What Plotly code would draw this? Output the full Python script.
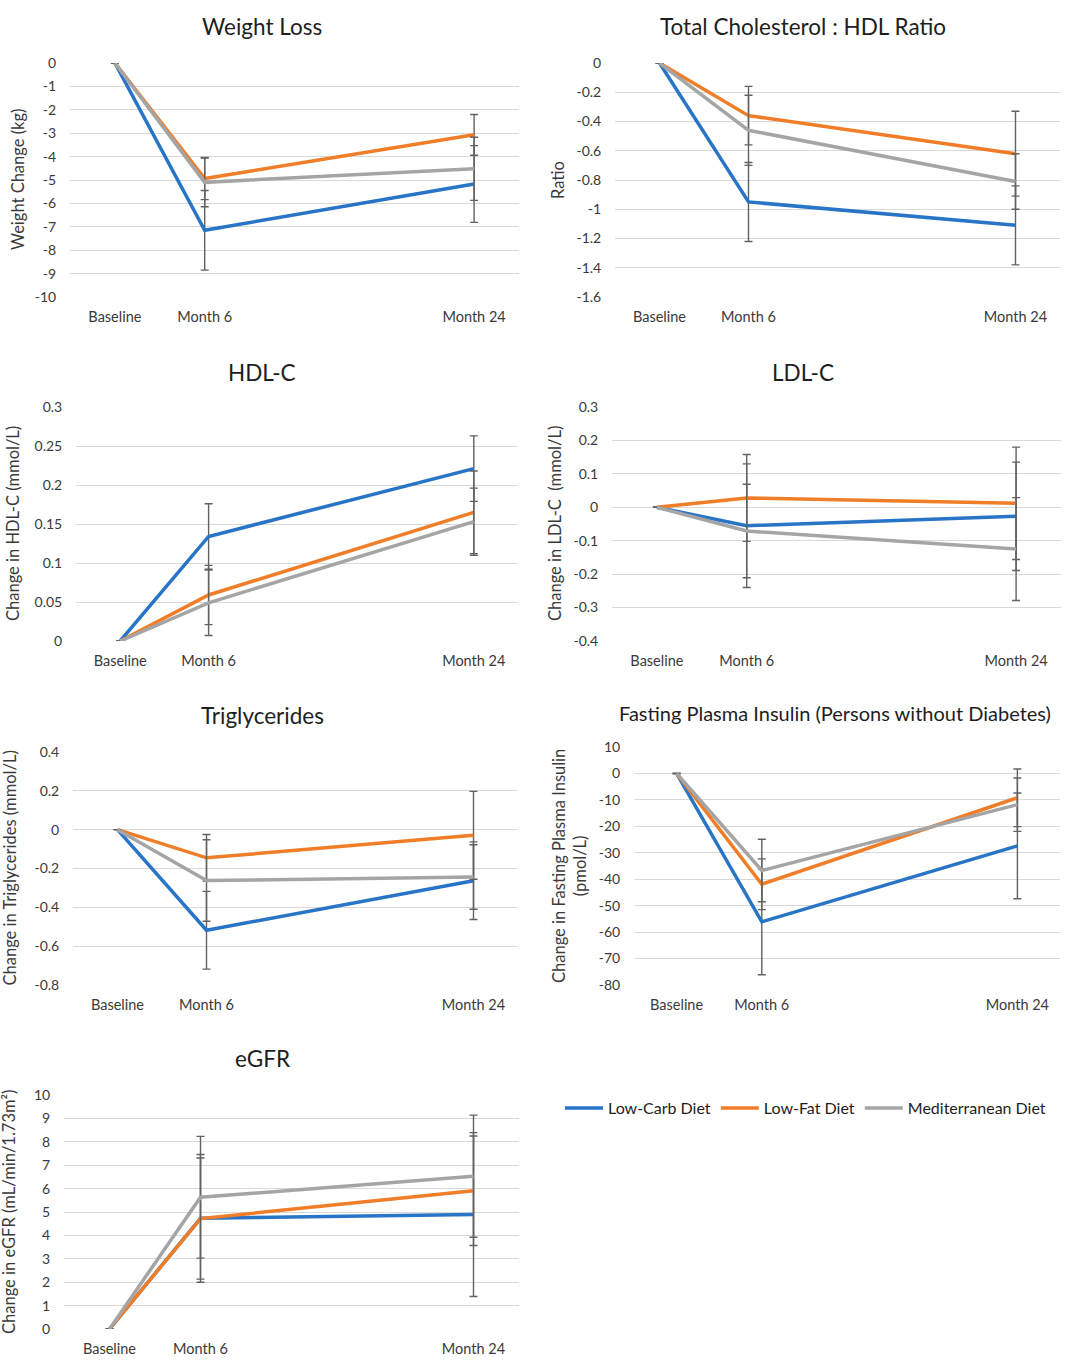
import plotly.graph_objects as go
import numpy as np

W, H = 1080, 1369
FONT = "Lato"
TXT = "#3A3A3A"

months = [0, 6, 24]
month_labels = ["Baseline", "Month 6", "Month 24"]
series_names = ["Low-Carb Diet", "Low-Fat Diet", "Mediterranean Diet"]
series_colors = ["#2874C6", "#F07D28", "#A5A5A5"]

# values per panel: [low-carb, low-fat, mediterranean]
weight_vals = [[0, -7.15, -5.17], [0, -4.94, -3.07], [0, -5.10, -4.52]]
weight_err = [[0, 1.70, 1.64], [0, 0.90, 0.87], [0, 1.04, 1.35]]

ratio_vals = [[0, -0.95, -1.11], [0, -0.36, -0.62], [0, -0.46, -0.81]]
ratio_err = [[0, 0.27, 0.27], [0, 0.20, 0.29], [0, 0.24, 0.19]]

hdl_vals = [[0, 0.134, 0.221], [0, 0.059, 0.165], [0, 0.049, 0.153]]
hdl_err = [[0, 0.042, 0.042], [0, 0.038, 0.053], [0, 0.042, 0.043]]

ldl_vals = [[0, -0.055, -0.027], [0, 0.028, 0.012], [0, -0.071, -0.125]]
ldl_err = [[0, 0.185, 0.162], [0, 0.130, 0.168], [0, 0.140, 0.154]]

tg_vals = [[0, -0.518, -0.263], [0, -0.145, -0.029], [0, -0.262, -0.244]]
tg_err = [[0, 0.200, 0.200], [0, 0.120, 0.226], [0, 0.210, 0.166]]

ins_vals = [[0, -56.1, -27.4], [0, -41.9, -9.2], [0, -36.7, -11.8]]
ins_err = [[0, 20.0, 20.0], [0, 9.6, 10.9], [0, 11.8, 10.1]]

egfr_vals = [[0, 4.73, 4.89], [0, 4.72, 5.91], [0, 5.63, 6.53]]
egfr_err = [[0, 2.73, 3.50], [0, 2.59, 2.34], [0, 2.60, 2.61]]

panels = [
    dict(title="Weight Loss", ytitle="Weight Change (kg)", vals=weight_vals, err=weight_err,
         yr=(-10, 0), dt=1),
    dict(title="Total Cholesterol : HDL Ratio", ytitle="Ratio", vals=ratio_vals, err=ratio_err,
         yr=(-1.6, 0), dt=0.2),
    dict(title="HDL-C", ytitle="Change in HDL-C (mmol/L)", vals=hdl_vals, err=hdl_err,
         yr=(0, 0.3), dt=0.05),
    dict(title="LDL-C", ytitle="Change in LDL-C  (mmol/L)", vals=ldl_vals, err=ldl_err,
         yr=(-0.4, 0.3), dt=0.1),
    dict(title="Triglycerides", ytitle="Change in Triglycerides (mmol/L)", vals=tg_vals, err=tg_err,
         yr=(-0.8, 0.4), dt=0.2),
    dict(title="Fasting Plasma Insulin (Persons without Diabetes)",
         ytitle="Change in Fasting Plasma Insulin<br>(pmol/L)", vals=ins_vals, err=ins_err,
         yr=(-80, 10), dt=10),
    dict(title="eGFR", ytitle="Change in eGFR (mL/min/1.73m²)", vals=egfr_vals, err=egfr_err,
         yr=(0, 10), dt=1),
]

# layout geometry (pixels): plot-area left, right, top, bottom; title pos; y-title x
geom = [
    dict(l=70, r=519, t=63, b=297, tx=262, ty=27, tsize=22.5, ax=18),
    dict(l=615, r=1060, t=63, b=297, tx=803, ty=27, tsize=22.5, ax=558),
    dict(l=76, r=518, t=407, b=641, tx=262, ty=372, tsize=22.5, ax=13),
    dict(l=612, r=1061, t=407, b=641, tx=803, ty=372, tsize=22.5, ax=555),
    dict(l=73, r=518, t=752, b=985, tx=262, ty=715, tsize=22.5, ax=9),
    dict(l=634, r=1060, t=747, b=985, tx=835, ty=713, tsize=20, ax=569),
    dict(l=64, r=519, t=1095, b=1329, tx=262, ty=1058, tsize=22.5, ax=9),
]

fig = go.Figure()
annotations = []
for i, (p, g) in enumerate(zip(panels, geom)):
    n = i + 1
    xa = "x" if n == 1 else f"x{n}"
    ya = "y" if n == 1 else f"y{n}"
    for s in range(3):
        fig.add_trace(go.Scatter(
            x=months, y=p["vals"][s], mode="lines", name=series_names[s],
            line=dict(color=series_colors[s], width=3.5),
            error_y=dict(type="data", array=p["err"][s], visible=True,
                         color="#626262", thickness=1.4, width=4),
            xaxis=xa, yaxis=ya, showlegend=(n == 1), legendgroup=series_names[s],
        ))
    lo, hi = p["yr"]
    tv = [float(v) + 0.0 for v in np.round(np.arange(lo, hi + p["dt"] / 2, p["dt"]), 4)]
    tt = [f"{v + 0.0:g}" for v in tv]
    xkey = "xaxis" if n == 1 else f"xaxis{n}"
    ykey = "yaxis" if n == 1 else f"yaxis{n}"
    fig.update_layout(**{
        xkey: dict(domain=[g["l"] / W, g["r"] / W], range=[-3, 27], anchor=ya,
                   automargin=False,
                   tickvals=months, ticktext=month_labels, showgrid=False, zeroline=False,
                   showline=False, ticks="outside", ticklen=7, tickcolor="rgba(0,0,0,0)",
                   tickfont=dict(family=FONT, size=14.5, color=TXT)),
        ykey: dict(domain=[1 - g["b"] / H, 1 - g["t"] / H], range=[lo, hi], anchor=xa,
                   automargin=False,
                   tickvals=tv, ticktext=tt, showgrid=True, gridcolor="#D9D9D9", gridwidth=1,
                   zeroline=False, showline=False, ticks="outside", ticklen=10,
                   tickcolor="rgba(0,0,0,0)",
                   tickfont=dict(family=FONT, size=14, color=TXT)),
    })
    annotations.append(dict(text=p["title"], x=g["tx"] / W, y=1 - g["ty"] / H, xref="paper",
                            yref="paper", showarrow=False, xanchor="center", yanchor="middle",
                            font=dict(family=FONT, size=g["tsize"], color="#1E1E1E")))
    annotations.append(dict(text=p["ytitle"], x=g["ax"] / W, y=1 - (g["t"] + g["b"]) / 2 / H,
                            xref="paper", yref="paper", showarrow=False, textangle=-90,
                            xanchor="center", yanchor="middle",
                            font=dict(family=FONT, size=16.5, color=TXT)))

fig.update_layout(
    template="none",
    width=W, height=H, margin=dict(l=0, r=0, t=0, b=0, pad=0, autoexpand=False),
    paper_bgcolor="white", plot_bgcolor="white",
    annotations=annotations,
    showlegend=True,
    legend=dict(orientation="h", x=560 / W, y=1 - 1108 / H, xanchor="left", yanchor="middle",
                font=dict(family=FONT, size=16, color="#1E1E1E"), itemwidth=38,
                tracegroupgap=0, bgcolor="rgba(0,0,0,0)", borderwidth=0),
)

post = ("var d=document.getElementById('{plot_id}');"
        "d.style.position='fixed';d.style.top='0px';d.style.left='0px';"
        "document.body.style.margin='0';document.body.style.padding='0';"
        "document.documentElement.style.overflow='hidden';")

fig.write_html("out.html", config={"displayModeBar": False, "responsive": False},
               post_script=post)
